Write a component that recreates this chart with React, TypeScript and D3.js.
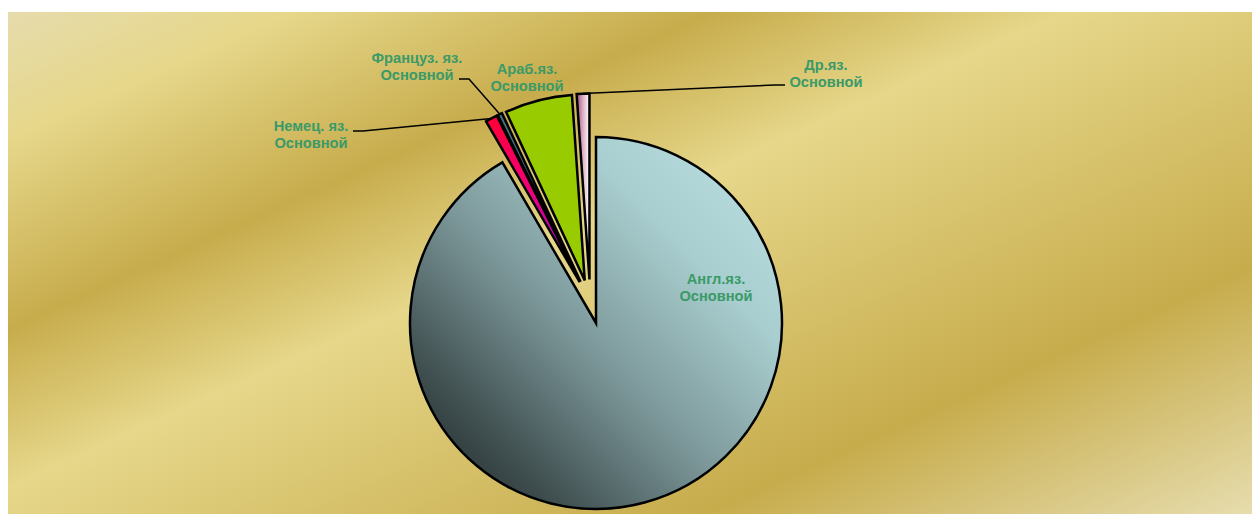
import React, { useEffect } from "react";
import * as d3 from "d3";

// ---- data ----
const categories = ["Англ.яз.", "Немец. яз.", "Француз. яз.", "Араб.яз.", "Др.яз."];
const subLabels = ["Основной", "Основной", "Основной", "Основной", "Основной"];
const values = [91.6, 1.05, 0.4, 5.85, 1.1];

// ---- layout / style ----
const W = 1244;
const H = 506;
const CX = 588;
const CY = 315;
const R = 186;
const EXPLODE = 44;
const exploded = [false, true, true, true, true];
const fills = ["url(#gMain)", "url(#gRed)", "#4a6f7c", "#99cc00", "url(#gPink)"];
// label centre offset from pie centre (x) and first baseline (y)
const labelOffsets: [number, number][] = [
  [120, -39],
  [-285, -192],
  [-179, -260],
  [-69, -249],
  [230, -253],
];
// leader: start relative to label anchor, and landing direction (+1 right, -1 left)
const leaders: ([number, number, number] | null)[] = [
  null,
  [42, 0, 1],
  [42, 16, 1],
  null,
  [-41, 15, -1],
];
const LABEL_COLOR = "#3a9a68";
const FONT = "'Liberation Sans', Arial, sans-serif";

export default function App() {
  useEffect(() => {
    document.documentElement.style.overflow = "hidden";
    document.body.style.overflow = "hidden";
  }, []);

  const pie = d3
    .pie<number>()
    .sort(null)
    .value((d) => d)
    .startAngle(0)
    .endAngle(2 * Math.PI);
  const arcs = pie(values);
  const arcGen = d3.arc<d3.PieArcDatum<number>>().innerRadius(0).outerRadius(R);

  const expIdx = arcs.map((_, i) => i).filter((i) => exploded[i]);
  const groupMid =
    (arcs[expIdx[0]].startAngle + arcs[expIdx[expIdx.length - 1]].endAngle) / 2;

  const geo = arcs.map((a, i) => {
    const bis = (a.startAngle + a.endAngle) / 2;
    let ox = 0;
    let oy = 0;
    if (exploded[i]) {
      const dir = (bis + groupMid) / 2;
      ox = EXPLODE * Math.sin(dir);
      oy = -EXPLODE * Math.cos(dir);
    }
    const tx = CX + ox + R * Math.sin(bis);
    const ty = CY + oy - R * Math.cos(bis);
    return { ox, oy, tx, ty };
  });

  return (
    <svg
      width={W}
      height={H}
      style={{ display: "block", position: "absolute", left: 8, top: 8 }}
    >
      <defs>
        <linearGradient id="gBg" gradientUnits="userSpaceOnUse" x1={0} y1={4} x2={396} y2={884}>
          <stop offset="0" stopColor="#E6DCAC" />
          <stop offset="0.12" stopColor="#E6D78A" />
          <stop offset="0.30" stopColor="#C7AC4C" />
          <stop offset="0.45" stopColor="#E6D78A" />
          <stop offset="0.77" stopColor="#C7AC4C" />
          <stop offset="1" stopColor="#E6DCAC" />
        </linearGradient>
        <linearGradient id="gMain" x1="1" y1="0" x2="0" y2="1">
          <stop offset="0" stopColor="#bfe3e4" />
          <stop offset="0.28" stopColor="#a9cecf" />
          <stop offset="0.55" stopColor="#7b9698" />
          <stop offset="0.8" stopColor="#3e4d4e" />
          <stop offset="1" stopColor="#1a2121" />
        </linearGradient>
        <linearGradient id="gRed" x1="0" y1="0" x2="0" y2="1">
          <stop offset="0" stopColor="#ff0033" />
          <stop offset="0.45" stopColor="#f0007a" />
          <stop offset="0.75" stopColor="#c000c0" />
          <stop offset="1" stopColor="#6a00d0" />
        </linearGradient>
        <linearGradient id="gPink" x1="0" y1="0" x2="1" y2="0">
          <stop offset="0" stopColor="#a44c7c" />
          <stop offset="0.5" stopColor="#dcb0c6" />
          <stop offset="1" stopColor="#ffffff" />
        </linearGradient>
      </defs>
      <rect x={0} y={4} width={W} height={H - 4} fill="url(#gBg)" />

      {arcs.map((a, i) => (
        <path
          key={i}
          d={arcGen(a) || ""}
          transform={`translate(${CX + geo[i].ox},${CY + geo[i].oy})`}
          fill={fills[i]}
          stroke="#000"
          strokeWidth={2.5}
        />
      ))}

      {categories.map((c, i) => {
        const lx = CX + labelOffsets[i][0];
        const ly = CY + labelOffsets[i][1];
        const ld = leaders[i];
        let line = null;
        if (ld) {
          const sx = lx + ld[0];
          const sy = ly + ld[1];
          const kx = sx + 10 * ld[2];
          line = (
            <polyline
              points={`${sx},${sy} ${kx},${sy} ${geo[i].tx},${geo[i].ty}`}
              fill="none"
              stroke="#000"
              strokeWidth={1.5}
            />
          );
        }
        return (
          <g key={c}>
            {line}
            <text
              x={lx}
              y={ly}
              textAnchor="middle"
              fontFamily={FONT}
              fontWeight="bold"
              fontSize={14.67}
              fill={LABEL_COLOR}
            >
              <tspan x={lx} y={ly}>{c}</tspan>
              <tspan x={lx} y={ly + 17}>{subLabels[i]}</tspan>
            </text>
          </g>
        );
      })}
    </svg>
  );
}
